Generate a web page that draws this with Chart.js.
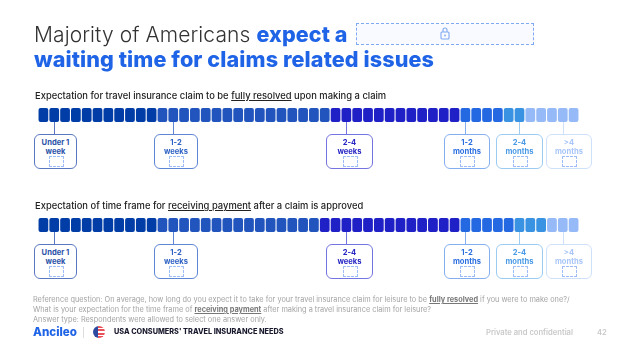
<!DOCTYPE html>
<html>
<head>
<meta charset="utf-8">
<script src="https://cdn.jsdelivr.net/npm/chart.js@4"></script>
<style>
html,body{margin:0;padding:0;background:#fff;}
#page{position:relative;width:628px;height:352px;overflow:hidden;font-family:Inter,"Noto Sans",sans-serif;filter:blur(0.45px);}
#page div,#page canvas{position:absolute;}
.t1{left:34px;top:21px;font-size:21px;font-weight:300;color:#333;white-space:nowrap;letter-spacing:0.1px;}
.t1 b{font-weight:800;color:#1f63e6;font-size:21.5px;letter-spacing:0.1px;}
.t2{left:34px;top:46px;font-size:21.6px;font-weight:800;color:#1f63e6;white-space:nowrap;letter-spacing:0.1px;}
.lock{left:356px;top:23px;width:178px;height:22px;border:1px dashed #7fa9f2;background:#f8faff;box-sizing:border-box;}
.hd{left:35px;font-size:9.4px;font-weight:500;color:#222;white-space:nowrap;}
.box{box-sizing:border-box;height:35px;background:#fff;border-radius:6px;border:1.2px solid;text-align:center;font-size:7.6px;font-weight:700;line-height:9px;padding-top:3px;}
.box span{display:block;margin-top:0;}
.ph{left:50%;bottom:1px;width:15px;height:11px;margin-left:-7px;border:1px dashed #9dbcf5;box-sizing:border-box;border-radius:1px;}
.foot{left:33px;font-size:7.35px;color:#a3a3a3;white-space:nowrap;}
.foot b{color:#777;font-weight:700;}
.brand{left:33px;top:325px;font-size:11.6px;font-weight:800;color:#1f63e6;}
.sep{left:83px;top:327px;width:1px;height:11px;background:#ddd;}
.flag{left:93px;top:326px;width:12px;height:12px;border-radius:50%;background:linear-gradient(90deg,#2b4aa0 0 45%,transparent 45%),repeating-linear-gradient(180deg,#e8505a 0 1.7px,#fff 1.7px 3.4px);}
.sub{left:114px;top:327px;font-size:7.3px;font-weight:800;color:#1a1a2e;white-space:nowrap;}
.priv{left:486px;top:328px;font-size:7.6px;font-weight:600;color:#c9c9c9;white-space:nowrap;}
.pg{left:597px;top:328px;font-size:7.6px;font-weight:600;color:#c9c9c9;}
</style>
</head>
<body>
<div id="page">
  <div class="t1">Majority of Americans <b>expect a</b></div>
  <div class="lock"></div>
  <svg style="position:absolute;left:440px;top:27px" width="10" height="13" viewBox="0 0 10 13"><rect x="1" y="5" width="8" height="7" rx="1" fill="none" stroke="#7fa9f2" stroke-width="1.1"/><path d="M3 5V3a2 2 0 0 1 4 0v2" fill="none" stroke="#7fa9f2" stroke-width="1.1"/><circle cx="5" cy="8.5" r="0.9" fill="#7fa9f2"/></svg>
  <div class="t2">waiting time for claims related issues</div>

  <div class="hd" style="top:90px">Expectation for travel insurance claim to be <u>fully resolved</u> upon making a claim</div>
  <canvas id="resolvedChart" style="left:38px;top:108px"></canvas>

  <div class="hd" style="top:200px">Expectation of time frame for <u>receiving payment</u> after a claim is approved</div>
  <canvas id="paymentChart" style="left:38px;top:218px"></canvas>

  <div class="foot" style="top:295px">Reference question: On average, how long do you expect it to take for your travel insurance claim for leisure to be <b><u>fully resolved</u></b> if you were to make one?/</div>
  <div class="foot" style="top:305px">What is your expectation for the time frame of <b><u>receiving payment</u></b> after making a travel insurance claim for leisure?</div>
  <div class="foot" style="top:315px">Answer type: Respondents were allowed to select one answer only.</div>
  <div class="brand">Ancileo</div>
  <div class="sep"></div>
  <div class="flag"></div>
  <div class="sub">USA CONSUMERS' TRAVEL INSURANCE NEEDS</div>
  <div class="priv">Private and confidential</div>
  <div class="pg">42</div>
</div>
<script>
// answer buckets and how many of the 50 cells each one fills
const buckets = ['Under 1 week','1-2 weeks','2-4 weeks','1-2 months','2-4 months','>4 months'];
const resolvedCells = [11,16,12,4,2,5];
const paymentCells = [11,15,13,5,3,3];

// styling
const cellcolors = ['#003da6','#2155bd','#1f20c6','#2468e2','#3a92e2','#96baf7'];
const bordercolors = ['#5a78c0','#5f86d2','#7373e2','#83aeef','#9ccbf2','#cfe0fb'];
const textcolors = ['#2a52a8','#2f62c4','#2626c4','#2a6ee0','#4a9ae6','#a9c6f8'];
const boxleft = [34,154,326,444,496,546];
const boxwidth = [43,44,47,46,47,46];
const leadercell = [1,12,28,39,44,48];

function expand(counts){
    let colors = [];
    counts.forEach((c,i) => {
        for(let k=0;k<c;k++){ colors.push(cellcolors[i]); }
    });
    return colors;
}

function makebar(id,counts,boxtop){
    let colors = expand(counts);
    let labels = colors.map((c,i) => i+1);
    let leaders = {
        id:'leaders',
        afterDatasetsDraw(chart){
            let ctx = chart.ctx, area = chart.chartArea;
            ctx.save();
            ctx.lineWidth = 1;
            leadercell.forEach((cell,i) => {
                let x = Math.round(chart.scales.x.getPixelForValue(cell))+0.5;
                ctx.strokeStyle = bordercolors[i];
                ctx.beginPath();
                ctx.moveTo(x,area.bottom);
                ctx.lineTo(x,chart.height);
                ctx.stroke();
            });
            ctx.restore();
        }
    };
    new Chart(document.getElementById(id), {
        type: 'bar',
        data: {
            labels: labels,
            datasets: [{
                data: colors.map(() => 1),
                backgroundColor: colors,
                borderRadius: 2,
                borderSkipped: false,
                categoryPercentage: 1,
                barPercentage: 0.9,
            }],
        },
        options: {
            responsive: false,
            animation: false,
            layout: {padding: {left:0,right:0,top:0,bottom:12}},
            plugins: {legend: {display:false}, tooltip: {enabled:false}},
            scales: {
                x: {display:false},
                y: {display:false, min:0, max:1},
            },
        },
        plugins: [leaders],
    });
    buckets.forEach((b,i) => {
        let box = document.createElement('div');
        box.className = 'box';
        box.style.left = boxleft[i]+'px';
        box.style.top = boxtop+'px';
        box.style.width = boxwidth[i]+'px';
        box.style.borderColor = bordercolors[i];
        box.style.color = textcolors[i];
        let cut = b.lastIndexOf(' ');
        box.innerHTML = '<span>'+b.slice(0,cut).replace('>','&gt;')+'</span><span>'+b.slice(cut+1)+'</span><div class="ph"></div>';
        document.getElementById('page').appendChild(box);
    });
}

function setup(id){
    let c = document.getElementById(id);
    c.width = 541;
    c.height = 26;
}
setup('resolvedChart');
setup('paymentChart');
makebar('resolvedChart',resolvedCells,134);
makebar('paymentChart',paymentCells,244);
</script>
</body>
</html>
